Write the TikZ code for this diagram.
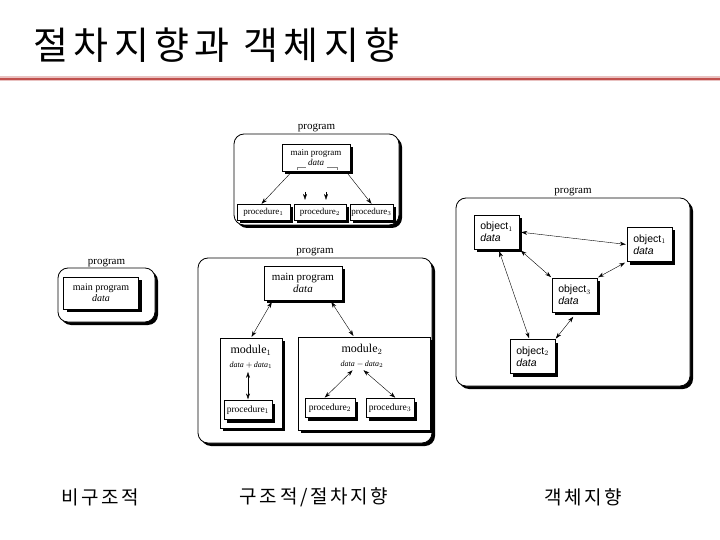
\documentclass[tikz,border=0pt]{standalone}
\usepackage{fontspec}
\setmainfont{Liberation Serif}
\setsansfont{Liberation Sans}
\newfontfamily\kr{Noto Sans CJK KR}
\newfontfamily\krwide[LetterSpace=14]{Noto Sans CJK KR}
\usetikzlibrary{shadows,arrows.meta}
\definecolor{titlered}{HTML}{C0504D}
\tikzset{
	progframe/.style={draw, thick, fill=white, rounded corners=10pt,
		drop shadow={shadow xshift=3pt, shadow yshift=-3pt, opacity=1, fill=black}},
	proglabel/.style={anchor=base, font=\fontsize{11}{12}\selectfont},
	modbox/.style={draw, fill=white, inner sep=1pt, align=center,
		drop shadow={shadow xshift=3pt, shadow yshift=-3pt, opacity=1, fill=black}},
	objbox/.style={modbox, align=left, font=\sffamily\fontsize{10.5}{12}\selectfont},
	link/.style={<->, >={Stealth[length=6pt,width=4pt]}, shorten <=2pt, shorten >=1pt},
	caption/.style={font=\krwide\fontsize{19}{21}\selectfont},
}
\newcommand{\ProgFrame}[5]{
	\draw[progframe] (#2,#3) rectangle (#4,#5);
	\node[proglabel] (#1) at ({(#2+#4)/2},#3-4) {program};
}

\begin{document}
\begin{tikzpicture}[x=1pt,y=-1pt]
	\useasboundingbox (0,0) rectangle (720,540);
	% title
	\node[anchor=west, font=\krwide\fontsize{38}{40}\selectfont] (title) at (30,45) {절차지향과 객체지향};
	\draw[line width=5pt, titlered!35] (0,79) -- (720,79);
	\draw[line width=2.5pt, titlered] (0,79) -- (720,79);

	% unstructured
	\ProgFrame{labA}{58}{268}{155}{322}
	\node[modbox, minimum width=75pt, minimum height=32pt, font=\fontsize{10}{11}\selectfont] (mainL) at (101,293) {main program\\\textit{data}};

	% procedural
	\ProgFrame{labB}{234}{134}{399}{225}
	\node[modbox, minimum width=68pt, minimum height=27pt, font=\fontsize{9}{10}\selectfont] (mainA) at (316,158) {main program\\\textit{data}};
	\begin{scope}[every node/.style={modbox, minimum height=16pt, font=\fontsize{9}{10}\selectfont}]
		\node[minimum width=53pt] (procA) at (263.5,212) {procedure$_1$};
		\node[minimum width=52pt] (procB) at (320,212) {procedure$_2$};
		\node[minimum width=43pt] (procC) at (371.5,212) {procedure$_3$};
	\end{scope}
	\draw[gray, thin] (297,170) -- (297,167) -- (306,167);
	\draw[gray, thin] (327,167) -- (337,167) -- (337,170);
	\draw[->, >={Stealth[length=6pt,width=4pt]}, shorten <=3pt] ([xshift=10pt]mainA.south west) -- ([xshift=-2pt]procA.north);
	\draw[->, >={Stealth[length=6pt,width=4pt]}, shorten <=3pt] ([xshift=-4pt]mainA.south east) -- (procC.north);
	\draw[->, >={Stealth[length=6pt,width=4pt]}] ([shift={(-15pt,12pt)}]procB.north) -- ([shift={(-15pt,4pt)}]procB.north);
	\draw[->, >={Stealth[length=6pt,width=4pt]}] ([shift={(6pt,12pt)}]procB.north) -- ([shift={(6pt,4pt)}]procB.north);

	% modular
	\ProgFrame{labC}{198}{258}{432}{443}
	\node[modbox, minimum width=78pt, minimum height=34pt, font=\fontsize{11}{12}\selectfont] (mainB) at (303,283) {main program\\\textit{data}};
	\node[modbox, minimum width=62pt, minimum height=90pt] (modA) at (251,383) {};
	\node[modbox, minimum width=132pt, minimum height=93pt] (modB) at (364,383.5) {};
	\node[align=center, inner sep=1pt, font=\fontsize{12}{14}\selectfont] (modAt) at (251,357) {module$_1$\\\footnotesize\textit{data} $+$\,\textit{data}$_1$};
	\node[align=center, inner sep=1pt, font=\fontsize{12}{14}\selectfont] (modBt) at (362,356) {module$_2$\\\footnotesize\textit{data} $-$\,\textit{data}$_2$};
	\begin{scope}[every node/.style={modbox, minimum height=19pt, font=\fontsize{9.5}{10}\selectfont}]
		\node[minimum width=48pt] (procD) at (248,410) {procedure$_1$};
		\node[minimum width=50pt] (procE) at (330,408) {procedure$_2$};
		\node[minimum width=48pt] (procF) at (390,408) {procedure$_3$};
	\end{scope}
	\draw[link] ([xshift=9pt]mainB.south west) -- (modA.north);
	\draw[link] ([xshift=-12pt]mainB.south east) -- ([xshift=-10pt]modB.north);
	\draw[link] ([xshift=-3pt]modAt.south) -- (procD.north);
	\draw[link] ([xshift=-8pt]modBt.south) -- ([xshift=-6pt]procE.north);
	\draw[link] (modBt.south) -- ([xshift=6pt]procF.north);

	% object oriented
	\ProgFrame{labD}{456}{198}{690}{386}
	\begin{scope}[every node/.style={objbox, minimum width=45pt, minimum height=34pt}]
		\node (objA) at (496.5,232) {object$_1$\\\textit{data}};
		\node (objD) at (649.5,244.5) {object$_1$\\\textit{data}};
		\node (objC) at (574.5,295) {object$_3$\\\textit{data}};
		\node (objB) at (532.5,356.5) {object$_2$\\\textit{data}};
	\end{scope}
	\draw[link] (objA.east) -- (objD.west);
	\draw[link] (objA.south east) -- (objC.north west);
	\draw[link] (objD.south west) -- (objC.north east);
	\draw[link] ([xshift=2pt]objA.south) -- ([xshift=-3pt]objB.north);
	\draw[link] ([yshift=-3pt]objC.south) -- (objB.north east);

	% captions
	\node[caption] (capA) at (100,497) {비구조적};
	\node[caption] (capB) at (314,497) {구조적/절차지향};
	\node[caption] (capC) at (583,497) {객체지향};
\end{tikzpicture}
\end{document}
